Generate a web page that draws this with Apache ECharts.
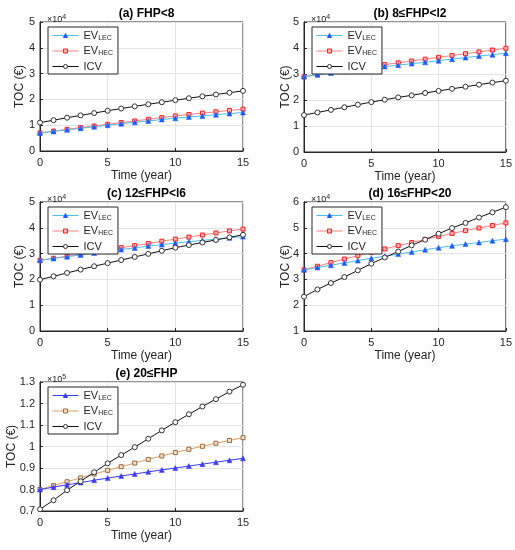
<!DOCTYPE html>
<html>
<head>
<meta charset="utf-8">
<script src="https://cdn.jsdelivr.net/npm/echarts@6/dist/echarts.min.js"></script>
<style>
  html, body { margin: 0; padding: 0; background: #fff; }
  #chart { width: 515px; height: 550px; }
</style>
</head>
<body>
<div id="chart"></div>
<script>
// years on the x axis
const years = [0,1,2,3,4,5,6,7,8,9,10,11,12,13,14,15];

// values in axis units (x10^4 for a-d, x10^5 for e)
const lecA = [0.70,0.76,0.82,0.88,0.94,1.00,1.055,1.11,1.165,1.22,1.27,1.315,1.36,1.405,1.45,1.49];
const hecA = [0.70,0.77,0.84,0.905,0.97,1.035,1.10,1.165,1.23,1.295,1.36,1.415,1.47,1.52,1.57,1.62];
const icvA = [1.10,1.195,1.29,1.38,1.47,1.56,1.645,1.73,1.81,1.89,1.97,2.045,2.12,2.19,2.26,2.33];

const lecB = [2.90,2.97,3.04,3.10,3.17,3.23,3.29,3.34,3.40,3.45,3.51,3.57,3.63,3.69,3.74,3.80];
const hecB = [2.89,2.97,3.05,3.13,3.21,3.28,3.36,3.43,3.50,3.57,3.64,3.71,3.78,3.85,3.92,3.99];
const icvB = [1.42,1.52,1.62,1.72,1.82,1.92,2.01,2.10,2.18,2.27,2.35,2.43,2.51,2.59,2.67,2.74];

const lecC = [2.74,2.81,2.88,2.95,3.02,3.09,3.16,3.22,3.29,3.35,3.41,3.46,3.51,3.56,3.61,3.66];
const hecC = [2.74,2.82,2.90,2.98,3.06,3.14,3.23,3.31,3.39,3.48,3.56,3.64,3.72,3.80,3.88,3.95];
const icvC = [1.99,2.12,2.25,2.38,2.51,2.63,2.75,2.87,2.99,3.11,3.23,3.33,3.43,3.53,3.63,3.73];

const lecD = [3.37,3.46,3.55,3.64,3.73,3.82,3.90,3.98,4.06,4.15,4.23,4.30,4.37,4.43,4.50,4.56];
const hecD = [3.37,3.51,3.65,3.79,3.92,4.05,4.18,4.31,4.43,4.55,4.67,4.78,4.89,4.99,5.09,5.19];
const icvD = [2.33,2.61,2.86,3.09,3.35,3.61,3.85,4.08,4.32,4.54,4.77,4.99,5.19,5.40,5.60,5.80];

const lecE = [0.800,0.811,0.822,0.832,0.843,0.853,0.863,0.872,0.882,0.891,0.900,0.909,0.918,0.927,0.936,0.945];
const hecE = [0.800,0.818,0.836,0.854,0.872,0.889,0.906,0.923,0.940,0.956,0.972,0.987,1.001,1.015,1.028,1.041];
const icvE = [0.708,0.750,0.797,0.838,0.880,0.922,0.960,0.997,1.036,1.075,1.113,1.150,1.186,1.220,1.255,1.287];

const panelTitles = ['(a) FHP<8', '(b) 8\u2264FHP<l2', '(c) 12\u2264FHP<l6', '(d) 16\u2264FHP<20', '(e) 20\u2264FHP'];
const expLabels = ['4', '4', '4', '4', '5'];
const yMin = [0, 0, 0, 1, 0.7];
const yMax = [5, 5, 5, 6, 1.3];
const yStep = [1, 1, 1, 1, 0.1];

const panels = [
  { lec: lecA, hec: hecA, icv: icvA },
  { lec: lecB, hec: hecB, icv: icvB },
  { lec: lecC, hec: hecC, icv: icvC },
  { lec: lecD, hec: hecD, icv: icvD },
  { lec: lecE, hec: hecE, icv: icvE }
];

// grid boxes [left, top, width, height, y-name gap]
const boxes = [
  [40, 22, 203, 129, 14],
  [304, 22, 202, 130, 12],
  [40, 202, 203, 129, 14],
  [304, 202, 202, 129, 12],
  [40, 382, 203, 129, 22]
];

const font = 'Liberation Sans, Arial, sans-serif';
const ink = '#262626';

function pts(arr) {
  return years.map((y, i) => [y, arr[i]]);
}

let grid = [], xAxis = [], yAxis = [], series = [], legend = [], title = [];

panels.forEach((p, k) => {
  let b = boxes[k];
  let last = k === 4;
  grid.push({
    left: b[0], top: b[1], width: b[2], height: b[3],
    show: true, borderColor: ink, borderWidth: 1, backgroundColor: '#fff'
  });
  xAxis.push({
    type: 'value', gridIndex: k, min: 0, max: 15, interval: 5,
    name: 'Time (year)', nameLocation: 'middle', nameGap: 19, nameMoveOverlap: false,
    nameTextStyle: { fontFamily: font, fontSize: 12, color: ink },
    axisLine: { lineStyle: { color: ink } },
    axisTick: { inside: true, length: 3, lineStyle: { color: ink } },
    axisLabel: { fontFamily: font, fontSize: 11, color: ink, margin: 6 },
    splitLine: { show: true, lineStyle: { color: '#e3e3e3' } }
  });
  yAxis.push({
    type: 'value', gridIndex: k, min: yMin[k], max: yMax[k], interval: yStep[k],
    name: 'TOC (\u20ac)', nameLocation: 'middle', nameGap: b[4], nameMoveOverlap: false,
    nameTextStyle: { fontFamily: font, fontSize: 12, color: ink },
    axisLine: { lineStyle: { color: ink } },
    axisTick: { inside: true, length: 3, lineStyle: { color: ink } },
    axisLabel: { fontFamily: font, fontSize: 11, color: ink, margin: 5,
      formatter: v => String(parseFloat(v.toFixed(2))) },
    splitLine: { show: true, lineStyle: { color: '#e3e3e3' } }
  });

  let lecLine = last ? '#3a3aff' : '#4dbeee';
  let lecMark = last ? '#3a3aff' : '#1a5cff';
  let hecLine = last ? '#d9a066' : '#ff7f7f';
  let hecMark = last ? '#9a6a3a' : '#ff2020';
  let tag = String.fromCharCode(97 + k);

  series.push({
    name: tag + '_LEC', type: 'line', xAxisIndex: k, yAxisIndex: k,
    data: pts(p.lec), symbol: 'triangle', symbolSize: 5,
    lineStyle: { color: lecLine, width: 1 },
    itemStyle: { color: lecMark, borderColor: lecMark, borderWidth: 0.5 },
    emphasis: { disabled: true }, z: 3
  });
  series.push({
    name: tag + '_HEC', type: 'line', xAxisIndex: k, yAxisIndex: k,
    data: pts(p.hec), symbol: 'rect', symbolSize: 4,
    lineStyle: { color: hecLine, width: 1 },
    itemStyle: { color: last ? '#f3e3d0' : '#ffb0b0', borderColor: hecMark, borderWidth: 1 },
    emphasis: { disabled: true }, z: 2
  });
  series.push({
    name: tag + '_ICV', type: 'line', xAxisIndex: k, yAxisIndex: k,
    data: pts(p.icv), symbol: 'circle', symbolSize: 5,
    lineStyle: { color: '#111', width: 1 },
    itemStyle: { color: '#fff', borderColor: '#333', borderWidth: 1 },
    emphasis: { disabled: true }, z: 4
  });

  legend.push({
    data: [tag + '_LEC', tag + '_HEC', tag + '_ICV'],
    orient: 'vertical', left: b[0] + 8, top: b[1] + 5,
    itemWidth: 26, itemHeight: 5, itemGap: 4,
    padding: [3, 5, 2, 4],
    backgroundColor: '#fff', borderColor: ink, borderWidth: 1,
    selectedMode: false,
    lineStyle: { width: 1 },
    itemStyle: { borderWidth: 1 },
    formatter: n => {
      let s = n.split('_')[1];
      return s === 'ICV' ? 'ICV' : 'EV{sub|' + s + '}';
    },
    textStyle: {
      fontFamily: font, fontSize: 11, color: ink,
      rich: { sub: { fontFamily: font, fontSize: 7, color: ink, verticalAlign: 'bottom', padding: [5, 0, 0, 0] } }
    }
  });

  title.push({
    text: panelTitles[k],
    left: b[0] + b[2] / 2, top: b[1] - 19, textAlign: 'center',
    textStyle: { fontFamily: font, fontSize: 12, fontWeight: 'bold', color: '#000' }
  });
  title.push({
    text: '\u00d710{sup|' + expLabels[k] + '}',
    left: b[0] + 2, top: b[1] - 13,
    textStyle: {
      fontFamily: font, fontSize: 9, fontWeight: 'normal', color: ink,
      rich: { sup: { fontFamily: font, fontSize: 7, color: ink, verticalAlign: 'top', padding: [0, 0, 5, 0] } }
    }
  });
});

const chart = echarts.init(document.getElementById('chart'), null, { renderer: 'canvas' });
chart.setOption({
  animation: false,
  backgroundColor: '#fff',
  title: title,
  legend: legend,
  grid: grid,
  xAxis: xAxis,
  yAxis: yAxis,
  series: series
});
</script>
</body>
</html>
